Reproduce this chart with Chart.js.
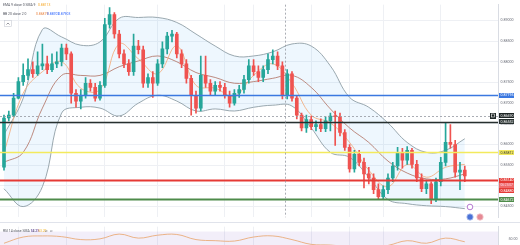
<!DOCTYPE html>
<html>
<head>
<meta charset="utf-8">
<script src="https://cdn.jsdelivr.net/npm/chart.js@4.4.0/dist/chart.umd.min.js"></script>
<style>
  html, body { margin: 0; padding: 0; background: #fff; overflow: hidden; width: 520px; height: 245px; }
  #price { position: absolute; left: 0; top: 0; }
  #rsi { position: absolute; left: 0; top: 222px; }
</style>
</head>
<body>
<canvas id="price" width="520" height="222"></canvas>
<canvas id="rsi" width="520" height="50"></canvas>
<script>
// daily candles, index = bar number
const candleOpen = [
  0.8545, 0.8664, 0.8671, 0.8712, 0.8752, 0.8767, 0.8781, 0.8771, 0.8790, 0.8795,
  0.8781, 0.8795, 0.8800, 0.8833, 0.8819, 0.8724, 0.8705, 0.8719, 0.8748, 0.8738,
  0.8712, 0.8743, 0.8890, 0.8914, 0.8867, 0.8819, 0.8795, 0.8776, 0.8838, 0.8829,
  0.8748, 0.8762, 0.8748, 0.8795, 0.8831, 0.8862, 0.8867, 0.8819, 0.8795, 0.8760,
  0.8719, 0.8688, 0.8767, 0.8748, 0.8729, 0.8743, 0.8738, 0.8719, 0.8700, 0.8724,
  0.8733, 0.8757, 0.8790, 0.8776, 0.8762, 0.8781, 0.8805, 0.8814, 0.8790, 0.8719,
  0.8771, 0.8712, 0.8671, 0.8640, 0.8660, 0.8643, 0.8648, 0.8638, 0.8657, 0.8669,
  0.8667, 0.8629, 0.8593, 0.8541, 0.8576, 0.8557, 0.8529, 0.8519, 0.8491, 0.8474,
  0.8491, 0.8519, 0.8548, 0.8581, 0.8562, 0.8586, 0.8552, 0.8519, 0.8493, 0.8505,
  0.8467, 0.8510, 0.8557, 0.8605, 0.8600, 0.8533, 0.8538
];
const candleHigh = [
  0.8671, 0.8681, 0.8724, 0.8762, 0.8795, 0.8807, 0.8800, 0.8824, 0.8843, 0.8814,
  0.8819, 0.8824, 0.8843, 0.8843, 0.8824, 0.8733, 0.8733, 0.8762, 0.8757, 0.8748,
  0.8752, 0.8905, 0.8931, 0.8919, 0.8876, 0.8829, 0.8805, 0.8867, 0.8852, 0.8838,
  0.8771, 0.8776, 0.8805, 0.8848, 0.8871, 0.8876, 0.8871, 0.8829, 0.8805, 0.8767,
  0.8729, 0.8814, 0.8814, 0.8757, 0.8752, 0.8752, 0.8748, 0.8729, 0.8733, 0.8743,
  0.8767, 0.8805, 0.8805, 0.8790, 0.8790, 0.8819, 0.8829, 0.8824, 0.8800, 0.8781,
  0.8776, 0.8719, 0.8676, 0.8671, 0.8669, 0.8657, 0.8662, 0.8667, 0.8676, 0.8681,
  0.8676, 0.8636, 0.8600, 0.8586, 0.8586, 0.8567, 0.8545, 0.8529, 0.8505, 0.8500,
  0.8529, 0.8557, 0.8593, 0.8591, 0.8595, 0.8591, 0.8562, 0.8529, 0.8514, 0.8510,
  0.8519, 0.8569, 0.8652, 0.8648, 0.8610, 0.8557, 0.8548
];
const candleLow = [
  0.8538, 0.8657, 0.8667, 0.8710, 0.8743, 0.8757, 0.8762, 0.8767, 0.8781, 0.8771,
  0.8776, 0.8786, 0.8790, 0.8805, 0.8700, 0.8690, 0.8686, 0.8712, 0.8729, 0.8705,
  0.8707, 0.8738, 0.8881, 0.8857, 0.8809, 0.8786, 0.8767, 0.8767, 0.8819, 0.8738,
  0.8738, 0.8714, 0.8743, 0.8786, 0.8819, 0.8848, 0.8809, 0.8786, 0.8748, 0.8671,
  0.8676, 0.8681, 0.8738, 0.8719, 0.8719, 0.8729, 0.8712, 0.8690, 0.8695, 0.8714,
  0.8724, 0.8748, 0.8767, 0.8752, 0.8752, 0.8771, 0.8795, 0.8781, 0.8710, 0.8710,
  0.8705, 0.8662, 0.8633, 0.8629, 0.8636, 0.8633, 0.8631, 0.8631, 0.8633, 0.8598,
  0.8621, 0.8586, 0.8533, 0.8533, 0.8548, 0.8495, 0.8505, 0.8481, 0.8467, 0.8469,
  0.8481, 0.8510, 0.8538, 0.8543, 0.8552, 0.8543, 0.8510, 0.8486, 0.8481, 0.8457,
  0.8462, 0.8500, 0.8548, 0.8591, 0.8521, 0.8491, 0.8510
];
const candleClose = [
  0.8664, 0.8671, 0.8712, 0.8752, 0.8767, 0.8781, 0.8771, 0.8790, 0.8795, 0.8781,
  0.8795, 0.8800, 0.8833, 0.8819, 0.8724, 0.8705, 0.8719, 0.8748, 0.8738, 0.8712,
  0.8743, 0.8890, 0.8914, 0.8867, 0.8819, 0.8795, 0.8776, 0.8838, 0.8829, 0.8748,
  0.8762, 0.8748, 0.8795, 0.8831, 0.8862, 0.8867, 0.8819, 0.8795, 0.8760, 0.8719,
  0.8688, 0.8767, 0.8748, 0.8729, 0.8743, 0.8738, 0.8719, 0.8700, 0.8724, 0.8733,
  0.8757, 0.8790, 0.8776, 0.8762, 0.8781, 0.8805, 0.8814, 0.8790, 0.8719, 0.8771,
  0.8712, 0.8671, 0.8640, 0.8660, 0.8643, 0.8648, 0.8638, 0.8657, 0.8669, 0.8667,
  0.8629, 0.8593, 0.8541, 0.8576, 0.8557, 0.8529, 0.8519, 0.8491, 0.8474, 0.8491,
  0.8519, 0.8548, 0.8581, 0.8562, 0.8586, 0.8552, 0.8519, 0.8493, 0.8505, 0.8467,
  0.8510, 0.8557, 0.8605, 0.8600, 0.8533, 0.8538, 0.8524
];

// indicator lines, read every 4th bar
const bandIdx = [0, 4, 8, 12, 16, 20, 24, 28, 32, 36, 40, 44, 48, 52, 56, 60, 64, 68, 72, 76, 80, 84, 88, 92, 96];
const bbUpper = [0.8624, 0.8712, 0.8878, 0.8860, 0.8840, 0.8848, 0.8905, 0.8907, 0.8907, 0.8895, 0.8867, 0.8838, 0.8814,
                 0.8814, 0.8824, 0.8843, 0.8838, 0.8790, 0.8714, 0.8690, 0.8652, 0.8605, 0.8581, 0.8586, 0.8614];
const bbBasis = [0.8557, 0.8581, 0.8688, 0.8767, 0.8767, 0.8767, 0.8788, 0.8802, 0.8814, 0.8800, 0.8774, 0.8762, 0.8748,
                 0.8752, 0.8760, 0.8767, 0.8738, 0.8686, 0.8640, 0.8605, 0.8560, 0.8531, 0.8517, 0.8517, 0.8529];
const bbLower = [0.8493, 0.8450, 0.8498, 0.8676, 0.8690, 0.8688, 0.8669, 0.8700, 0.8719, 0.8705, 0.8681, 0.8686, 0.8681,
                 0.8690, 0.8695, 0.8693, 0.8640, 0.8581, 0.8569, 0.8521, 0.8467, 0.8457, 0.8452, 0.8450, 0.8445];
const emaLine = [0.8581, 0.8724, 0.8776, 0.8800, 0.8736, 0.8733, 0.8843, 0.8807, 0.8771, 0.8838, 0.8743, 0.8736, 0.8717,
                 0.8767, 0.8795, 0.8748, 0.8671, 0.8652, 0.8605, 0.8538, 0.8498, 0.8552, 0.8521, 0.8545, 0.8552];
const rsiValues = [38, 55, 58, 56, 48, 50, 63, 52, 60, 62, 48, 45, 44, 55, 58, 48, 35, 33, 28, 25, 32, 45, 38, 52, 42];

// horizontal levels drawn on the chart
const levelPrices = [0.87195, 0.86552, 0.85812, 0.85140, 0.84672];
const levelColors = ['#3b78e0', '#27302f', '#f3ea5d', '#e53935', '#4e8b4a'];
const levelWidths = [1.5, 1.5, 1.5, 2, 2];
const extraLabel = 0.84880;
const countdown = '06:23:07';
const crossIdx = 58.5;
const crossPrice = 0.86690;

const yTicks = [0.8450, 0.8500, 0.8550, 0.8600, 0.8650, 0.8700, 0.8750, 0.8800, 0.8850, 0.8900];
const gridIdx = [3, 13, 21, 32, 46, 52, 64, 72, 79, 91];
const xMin = -0.8333, xMax = 102.92;

const UP = '#26a69a', DOWN = '#ef5350';
const FONT = 'Roboto';
const candleColors = candleOpen.map((o, i) => candleClose[i] >= o ? UP : DOWN);
const pts = (vals) => vals.map((v, k) => ({ x: bandIdx[k], y: v }));

function tag(ctx, yc, text, bg, fg, h) {
  const x0 = 499, w = 15;
  ctx.fillStyle = bg;
  ctx.fillRect(x0, Math.round(yc - h / 2), w, h);
  ctx.fillStyle = fg;
  ctx.font = '3.6px ' + FONT;
  ctx.textBaseline = 'middle';
  ctx.textAlign = 'left';
  ctx.fillText(text, x0 + 1.5, yc + 0.3);
}

const overlay = {
  id: 'overlay',
  afterDatasetsDraw(chart) {
    const { ctx, chartArea: a, scales: { x, y } } = chart;
    ctx.save();
    levelPrices.forEach((p, k) => {
      const py = Math.round(y.getPixelForValue(p)) + 0.5;
      ctx.strokeStyle = levelColors[k];
      ctx.lineWidth = levelWidths[k];
      ctx.beginPath(); ctx.moveTo(a.left, py); ctx.lineTo(a.right, py); ctx.stroke();
    });
    ctx.setLineDash([2, 2]);
    ctx.strokeStyle = '#9598a1';
    ctx.lineWidth = 0.8;
    const cx = Math.round(x.getPixelForValue(crossIdx)) + 0.5;
    const cy = Math.round(y.getPixelForValue(crossPrice)) + 0.5;
    ctx.beginPath(); ctx.moveTo(cx, a.top); ctx.lineTo(cx, a.bottom); ctx.stroke();
    ctx.beginPath(); ctx.moveTo(a.left, cy); ctx.lineTo(a.right, cy); ctx.stroke();
    ctx.restore();
  },
  afterDraw(chart) {
    const { ctx, scales: { y } } = chart;
    ctx.save();
    // price scale tags
    tag(ctx, y.getPixelForValue(levelPrices[0]), levelPrices[0].toFixed(5), levelColors[0], '#fff', 5);
    tag(ctx, y.getPixelForValue(crossPrice), crossPrice.toFixed(5), '#1f2626', '#fff', 5);
    tag(ctx, y.getPixelForValue(levelPrices[1]), levelPrices[1].toFixed(5), levelColors[1], '#fff', 5);
    tag(ctx, y.getPixelForValue(levelPrices[2]), levelPrices[2].toFixed(5), levelColors[2], '#333', 5);
    const ry = y.getPixelForValue(levelPrices[3]);
    ctx.fillStyle = '#ef6a6a';
    ctx.fillRect(499, Math.round(ry - 2.5), 15, 10);
    tag(ctx, ry, levelPrices[3].toFixed(5), levelColors[3], '#fff', 5);
    ctx.fillStyle = '#fde';
    ctx.font = '3.2px ' + FONT;
    ctx.fillText(countdown, 500.5, ry + 5.2);
    tag(ctx, y.getPixelForValue(extraLabel), extraLabel.toFixed(5), '#e53935', '#fff', 5);
    tag(ctx, y.getPixelForValue(levelPrices[4]), levelPrices[4].toFixed(5), levelColors[4], '#fff', 5);
    // crosshair button
    const cy = y.getPixelForValue(crossPrice);
    ctx.fillStyle = '#1f2626';
    ctx.fillRect(490, Math.round(cy - 3), 6, 6);
    ctx.strokeStyle = '#fff';
    ctx.lineWidth = 0.6;
    ctx.strokeRect(491.5, Math.round(cy - 1.5), 3, 3);

    // legend, top left
    ctx.textBaseline = 'middle';
    ctx.textAlign = 'left';
    ctx.font = '3.4px ' + FONT;
    ctx.fillStyle = '#50535e';
    ctx.fillText('EMA 9 close 0 SMA 9', 3, 5);
    ctx.fillStyle = '#f5a623';
    ctx.fillText('0.88113', 38, 5);
    ctx.fillStyle = '#50535e';
    ctx.fillText('BB 20 close 2 0', 3, 14);
    ctx.fillStyle = '#e8823f';
    ctx.fillText('0.86879', 36, 14);
    ctx.fillStyle = '#2962ff';
    ctx.fillText('0.88702', 47, 14);
    ctx.fillText('0.87903', 58, 14);
    ctx.strokeStyle = '#c9ccd4';
    ctx.lineWidth = 0.6;
    ctx.fillStyle = '#fff';
    ctx.fillRect(4.5, 20.5, 7, 6);
    ctx.strokeRect(4.5, 20.5, 7, 6);
    ctx.strokeStyle = '#50535e';
    ctx.beginPath(); ctx.moveTo(6.5, 24.5); ctx.lineTo(8, 23); ctx.lineTo(9.5, 24.5); ctx.stroke();

    // event icons near the last bar
    ctx.lineWidth = 0.8;
    ctx.fillStyle = '#fff';
    ctx.strokeStyle = '#a45bc7';
    ctx.beginPath(); ctx.arc(470, 207, 2.8, 0, Math.PI * 2); ctx.fill(); ctx.stroke();
    ctx.fillStyle = '#4a72d6';
    ctx.strokeStyle = '#b9c8f0';
    ctx.beginPath(); ctx.arc(470, 217, 3.2, 0, Math.PI * 2); ctx.fill(); ctx.stroke();
    ctx.fillStyle = '#e58a95';
    ctx.strokeStyle = '#f5c6cc';
    ctx.beginPath(); ctx.arc(480, 217, 3.2, 0, Math.PI * 2); ctx.fill(); ctx.stroke();
    ctx.restore();
  }
};

new Chart(document.getElementById('price'), {
  type: 'bar',
  data: {
    datasets: [
      {
        type: 'bar',
        data: candleOpen.map((o, i) => ({ x: i, y: [o, candleClose[i]] })),
        backgroundColor: candleColors,
        barThickness: 3,
        minBarLength: 1,
        grouped: false,
        order: 0
      },
      {
        type: 'bar',
        data: candleLow.map((l, i) => ({ x: i, y: [l, candleHigh[i]] })),
        backgroundColor: candleColors,
        barThickness: 1,
        grouped: false,
        order: 1
      },
      {
        type: 'line',
        data: pts(bbUpper),
        borderColor: '#8e9ea6',
        borderWidth: 0.9,
        pointRadius: 0,
        tension: 0.4,
        fill: '+1',
        backgroundColor: 'rgba(33,150,243,0.08)',
        order: 5
      },
      {
        type: 'line',
        data: pts(bbLower),
        borderColor: '#8e9ea6',
        borderWidth: 0.9,
        pointRadius: 0,
        tension: 0.4,
        fill: false,
        order: 4
      },
      {
        type: 'line',
        data: pts(bbBasis),
        borderColor: '#b06e60',
        borderWidth: 0.8,
        pointRadius: 0,
        tension: 0.4,
        fill: false,
        order: 3
      },
      {
        type: 'line',
        data: pts(emaLine),
        borderColor: '#f2a774',
        borderWidth: 0.8,
        pointRadius: 0,
        tension: 0.4,
        fill: false,
        order: 2
      }
    ]
  },
  options: {
    responsive: false,
    animation: false,
    events: [],
    layout: { padding: 0 },
    plugins: { legend: { display: false }, tooltip: { enabled: false } },
    scales: {
      x: {
        type: 'linear',
        min: xMin,
        max: xMax,
        offset: false,
        grid: { color: '#eef0f4', drawTicks: false, offset: false },
        border: { display: false },
        ticks: { display: false },
        afterBuildTicks: (s) => { s.ticks = gridIdx.map((v) => ({ value: v })); },
        afterFit: (s) => { s.height = 0; }
      },
      y: {
        position: 'right',
        min: 0.8424,
        max: 0.8938,
        grid: { color: '#eef0f4', drawTicks: false },
        border: { color: '#d9dce3' },
        ticks: {
          font: { size: 3.6, family: FONT },
          color: '#6a6d78',
          padding: 2.5,
          callback: (v) => v.toFixed(5)
        },
        afterBuildTicks: (s) => { s.ticks = yTicks.map((v) => ({ value: v })); },
        afterFit: (s) => { s.width = 22; }
      }
    }
  },
  plugins: [overlay]
});

const rsiPane = {
  id: 'rsiPane',
  beforeDatasetsDraw(chart) {
    const { ctx, chartArea: a, scales: { y } } = chart;
    ctx.save();
    ctx.fillStyle = 'rgba(126,87,194,0.1)';
    const t = y.getPixelForValue(70), b = y.getPixelForValue(30);
    ctx.fillRect(a.left, t, a.right - a.left, b - t);
    ctx.restore();
  },
  afterDraw(chart) {
    const { ctx } = chart;
    ctx.save();
    ctx.strokeStyle = '#e0e3eb';
    ctx.lineWidth = 1;
    ctx.beginPath(); ctx.moveTo(0, 0.5); ctx.lineTo(520, 0.5); ctx.stroke();
    ctx.textBaseline = 'middle';
    ctx.textAlign = 'left';
    ctx.font = '3.4px ' + FONT;
    ctx.fillStyle = '#50535e';
    ctx.fillText('RSI 14 close SMA 14 2', 3, 9);
    ctx.fillStyle = '#7e57c2';
    ctx.fillText('51.78', 31, 9);
    ctx.fillStyle = '#f0b429';
    ctx.fillText('53.20', 38, 9);
    ctx.fillStyle = '#50535e';
    ctx.fillText('\u2205  \u2205', 45, 9);
    ctx.restore();
  }
};

new Chart(document.getElementById('rsi'), {
  type: 'line',
  data: {
    datasets: [{
      data: pts(rsiValues),
      borderColor: '#e9a36a',
      borderWidth: 0.8,
      pointRadius: 0,
      tension: 0.4,
      fill: false
    }]
  },
  options: {
    responsive: false,
    animation: false,
    events: [],
    layout: { padding: 0 },
    plugins: { legend: { display: false }, tooltip: { enabled: false } },
    scales: {
      x: {
        type: 'linear',
        min: xMin,
        max: xMax,
        grid: { color: '#eef0f4', drawTicks: false },
        border: { display: false },
        ticks: { display: false },
        afterBuildTicks: (s) => { s.ticks = gridIdx.map((v) => ({ value: v })); },
        afterFit: (s) => { s.height = 0; }
      },
      y: {
        position: 'right',
        min: -27.8,
        max: 83.3,
        grid: { display: false },
        border: { color: '#d9dce3' },
        ticks: {
          font: { size: 3.6, family: FONT },
          color: '#6a6d78',
          padding: 2.5,
          callback: (v) => v.toFixed(2)
        },
        afterBuildTicks: (s) => { s.ticks = [{ value: 50 }]; },
        afterFit: (s) => { s.width = 22; }
      }
    }
  },
  plugins: [rsiPane]
});
</script>
</body>
</html>
